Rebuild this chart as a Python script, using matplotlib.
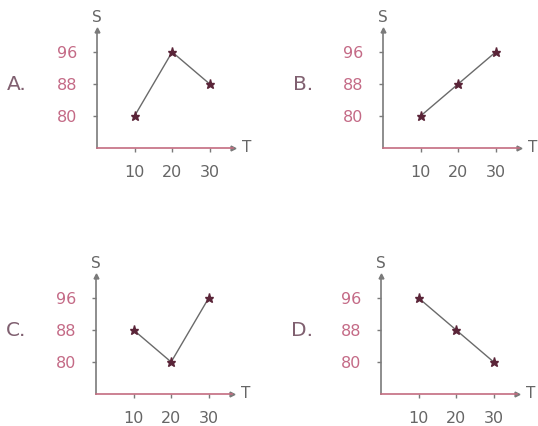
import matplotlib
matplotlib.use("Agg")
import matplotlib.pyplot as plt

T = [10, 20, 30]
S_A = [80, 96, 88]
S_B = [80, 88, 96]
S_C = [88, 80, 96]
S_D = [96, 88, 80]
labels = ["A.", "B.", "C.", "D."]
series = [S_A, S_B, S_C, S_D]
yticks = [80, 88, 96]

W, H = 538, 426
fig = plt.figure(figsize=(W / 100, H / 100), dpi=100)
fig.patch.set_facecolor("white")

# pixel origins (x of y-axis, y of x-axis from top)
origins = [(97, 148), (383, 148), (96, 394), (381, 394)]
pw, ph = 136, 118

axis_gray = "#7a7a7a"
axis_red = "#c46c80"
ytick_col = "#c46a86"
text_gray = "#666666"
line_col = "#6a6a6a"
mark_col = "#5a2438"

for (x0, y0), lab, S in zip(origins, labels, series):
    ax = fig.add_axes([x0 / W, 1 - y0 / H, pw / W, ph / H])
    ax.set_xlim(0, 36.2)
    ax.set_ylim(72, 101.5)
    ax.set_facecolor("none")
    for s in ["top", "right"]:
        ax.spines[s].set_visible(False)
    ax.spines["left"].set_color(axis_gray)
    ax.spines["bottom"].set_color(axis_red)
    ax.spines["left"].set_linewidth(1.2)
    ax.spines["bottom"].set_linewidth(1.2)
    ax.plot(1, 0, ">", color=axis_gray, markersize=3.5, transform=ax.transAxes, clip_on=False)
    ax.plot(0, 1, "^", color=axis_gray, markersize=3.5, transform=ax.transAxes, clip_on=False)

    ax.plot(T, S, color=line_col, lw=1.0, zorder=2)
    ax.plot(T, S, linestyle="none", marker="*", markersize=6.5, color=mark_col, zorder=3)

    ax.set_xticks(T)
    ax.set_xticklabels([str(t) for t in T])
    ax.set_yticks(yticks)
    ax.set_yticklabels([str(v) for v in yticks])
    ax.tick_params(axis="x", direction="out", length=3, width=1, color=axis_gray,
                   labelsize=11.5, labelcolor=text_gray, pad=9)
    ax.tick_params(axis="y", direction="out", length=3, width=1, color=axis_gray,
                   labelsize=11.5, labelcolor=ytick_col, pad=11)

    ax.annotate("S", xy=(0, 1), xycoords="axes fraction", xytext=(0, 12),
                textcoords="offset pixels", ha="center", va="center",
                fontsize=11, color=text_gray)
    ax.annotate("T", xy=(1, 0), xycoords="axes fraction", xytext=(14, 0),
                textcoords="offset pixels", ha="center", va="center",
                fontsize=11, color=text_gray)

    ax.text(-0.66, 88, lab, transform=ax.get_yaxis_transform(), ha="left", va="center",
            fontsize=14.5, color="#806070")

fig.savefig("out.png", dpi=100, facecolor="white")
